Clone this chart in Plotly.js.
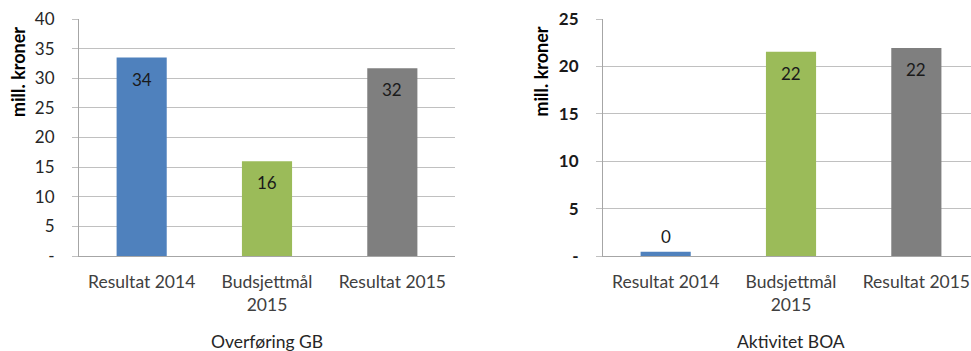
<!DOCTYPE html>
<html>
<head>
<meta charset="utf-8">
<script src="https://cdn.plot.ly/plotly-3.0.1.min.js"></script>
<style>
  html, body { margin: 0; padding: 0; background: #fff; }
  #chart { width: 971px; height: 351px; }
</style>
</head>
<body>
<div id="chart"></div>
<script>
// Categories shared by both panels
const categories = ['Resultat 2014', 'Budsjettmål<br>2015', 'Resultat 2015'];

// Values in mill. kroner
const overforingGB = [33.5, 16.0, 31.7];
const aktivitetBOA = [0.45, 21.55, 21.95];

const barColors = ['#4f81bd', '#9bbb59', '#7f7f7f'];

// Y tick values; zero is shown as a dash
const leftTickVals = [0, 5, 10, 15, 20, 25, 30, 35, 40];
const rightTickVals = [0, 5, 10, 15, 20, 25];
const tickText = vals => vals.map(v => (v === 0 ? '-' : String(v)));

const panelTitles = ['Overføring GB', 'Aktivitet BOA'];
const yTitle = 'mill. kroner';

const W = 971, H = 351;
const FONT = 'Lato, "Open Sans", sans-serif';
const GRID = '#c0c0c0';
const AXIS = '#a6a6a6';

const traces = [
  {
    type: 'bar', x: categories, y: overforingGB, xaxis: 'x', yaxis: 'y',
    marker: { color: barColors, line: { width: 0 } }, hoverinfo: 'x+y'
  },
  {
    type: 'bar', x: categories, y: aktivitetBOA, xaxis: 'x2', yaxis: 'y2',
    marker: { color: barColors, line: { width: 0 } }, hoverinfo: 'x+y'
  }
];

const xCommon = {
  type: 'category',
  showline: true, linecolor: AXIS, linewidth: 1,
  showgrid: false, zeroline: false, ticks: '',
  tickfont: { family: FONT, size: 17.5, color: '#404040' },
  ticklabelstandoff: 10,
  automargin: false, fixedrange: true
};
const yCommon = {
  showline: true, linecolor: AXIS, linewidth: 1,
  showgrid: true, gridcolor: GRID, gridwidth: 1,
  zeroline: false,
  ticks: 'outside', ticklen: 6, tickcolor: GRID,
  ticklabelstandoff: 14,
  automargin: false, fixedrange: true
};

const layout = {
  width: W, height: H,
  margin: { l: 0, r: 0, t: 19, b: 95 },
  paper_bgcolor: '#fff', plot_bgcolor: '#fff',
  showlegend: false,
  bargap: 0.6,
  font: { family: FONT, size: 17, color: '#262626' },
  xaxis: Object.assign({}, xCommon, { domain: [79 / W, 455 / W], range: [-0.5, 2.5], anchor: 'y' }),
  yaxis: Object.assign({}, yCommon, {
    range: [0, 40], tickvals: leftTickVals, ticktext: tickText(leftTickVals),
    tickfont: { family: FONT, size: 17, color: '#262626' }, anchor: 'x'
  }),
  xaxis2: Object.assign({}, xCommon, { domain: [603 / W, 1], range: [-0.5, 2.436], anchor: 'y2' }),
  yaxis2: Object.assign({}, yCommon, {
    range: [0, 25], tickvals: rightTickVals, ticktext: tickText(rightTickVals),
    tickfont: { family: FONT, size: 17, color: '#1a1a1a', weight: 'bold' }, anchor: 'x2'
  }),
  annotations: []
};

// Value labels: inside the top of tall bars, above short ones
[[overforingGB, 'x', 'y', 40], [aktivitetBOA, 'x2', 'y2', 25]].forEach(([vals, xr, yr, max]) => {
  vals.forEach((v, i) => {
    const small = v / max < 0.1;
    layout.annotations.push({
      x: categories[i], y: v, xref: xr, yref: yr,
      text: v.toFixed(0), showarrow: false,
      xanchor: 'center', yanchor: small ? 'bottom' : 'top',
      yshift: small ? 3 : -9,
      font: { family: FONT, size: 17, color: '#1a1a1a' }
    });
  });
});

// Panel captions below the category labels
panelTitles.forEach((t, k) => {
  layout.annotations.push({
    x: categories[1], xref: k === 0 ? 'x' : 'x2',
    y: 0, yref: 'paper', yanchor: 'middle', yshift: -85,
    text: t, showarrow: false,
    font: { family: FONT, size: 17.5, color: '#262626' }
  });
});

// Rotated y-axis titles
[18, 541.5].forEach(px => {
  layout.annotations.push({
    x: px / W, xref: 'paper', y: 0.776, yref: 'paper',
    xanchor: 'center', yanchor: 'middle', textangle: -90,
    text: yTitle, showarrow: false,
    font: { family: FONT, size: 18, color: '#000', weight: 'bold' }
  });
});

Plotly.newPlot('chart', traces, layout, { displayModeBar: false, staticPlot: true });
</script>
</body>
</html>
